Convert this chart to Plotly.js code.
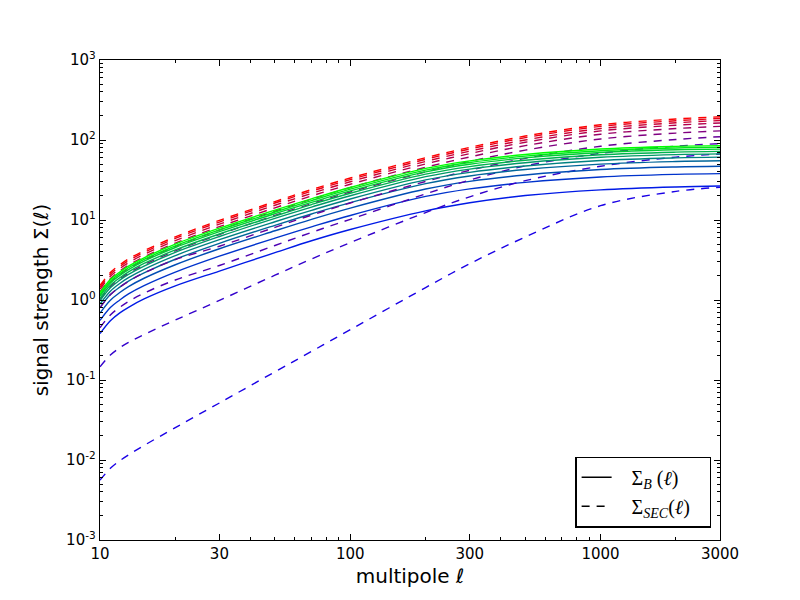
<!DOCTYPE html>
<html>
<head>
<meta charset="utf-8">
<script src="https://cdn.plot.ly/plotly-3.0.1.min.js"></script>
<style>html,body{margin:0;padding:0;background:#fff;}#chart{width:800px;height:600px;}</style>
</head>
<body>
<div id="chart"></div>
<script>
// multipole values
const ell = [10, 11, 12, 13, 15, 20, 30, 50, 70, 100, 200, 300, 500, 1000, 2000, 3000];

// Sigma_B(ell), solid lines (blue -> green)
const sigB1  = [0.38, 0.55, 0.69, 0.81, 1.03, 1.50, 2.30, 3.90, 5.50, 7.60, 13.0, 16.4, 20.2, 23.8, 25.9, 26.6];
const sigB2  = [0.555, 0.806, 1.00, 1.19, 1.51, 2.23, 3.53, 5.93, 8.21, 11.4, 19.7, 24.5, 29.5, 34.5, 37.2, 38.0];
const sigB3  = [0.686, 0.996, 1.24, 1.47, 1.87, 2.76, 4.37, 7.33, 10.2, 14.1, 24.4, 30.4, 36.5, 42.7, 46.0, 47.0];
const sigB4  = [0.803, 1.17, 1.45, 1.72, 2.18, 3.23, 5.11, 8.58, 11.9, 16.5, 28.5, 35.5, 42.7, 49.9, 53.8, 55.0];
const sigB5  = [0.891, 1.29, 1.61, 1.90, 2.42, 3.59, 5.67, 9.52, 13.2, 18.3, 31.7, 39.4, 47.3, 55.4, 59.7, 61.0];
const sigB6  = [0.978, 1.42, 1.77, 2.09, 2.66, 3.94, 6.22, 10.5, 14.5, 20.1, 34.8, 43.3, 52.0, 60.8, 65.6, 67.0];
const sigB7  = [1.05, 1.53, 1.90, 2.25, 2.86, 4.23, 6.69, 11.2, 15.6, 21.6, 37.4, 46.5, 55.9, 65.4, 70.5, 72.0];
const sigB8  = [1.12, 1.63, 2.03, 2.40, 3.06, 4.53, 7.15, 12.0, 16.6, 23.1, 40.0, 49.7, 59.8, 69.9, 75.4, 77.0];
const sigB9  = [1.18, 1.72, 2.14, 2.53, 3.22, 4.76, 7.52, 12.6, 17.5, 24.3, 42.0, 52.3, 62.9, 73.5, 79.3, 81.0];
const sigB10 = [1.24, 1.80, 2.24, 2.65, 3.37, 5.00, 7.90, 13.3, 18.4, 25.5, 44.1, 54.9, 66.0, 77.2, 83.2, 85.0];

// Sigma_SEC(ell), dashed lines (blue -> red)
const sigS1  = [0.0056, 0.00787, 0.0098, 0.0116, 0.0152, 0.0254, 0.0516, 0.1265, 0.2275, 0.425, 1.43, 2.84, 6.12, 15.1, 22.8, 25.6];
const sigS2  = [0.146, 0.205, 0.253, 0.295, 0.370, 0.561, 0.989, 2.04, 3.25, 5.22, 12.4, 19.5, 31.0, 47.0, 61.1, 66.8];
const sigS3  = [0.45, 0.65, 0.81, 0.96, 1.22, 1.78, 2.70, 4.80, 7.00, 10.2, 21.2, 31.6, 47.4, 68.1, 83.8, 90.0];
const sigS4  = [0.80, 1.16, 1.45, 1.71, 2.18, 3.20, 4.70, 8.10, 11.5, 16.3, 30.3, 41.8, 59.0, 83.5, 101.5, 110.0];
const sigS5  = [1.01, 1.47, 1.83, 2.17, 2.76, 4.11, 6.59, 11.4, 16.0, 22.4, 40.0, 54.0, 74.6, 103.0, 122.0, 130.0];
const sigS6  = [1.15, 1.67, 2.09, 2.47, 3.14, 4.68, 7.50, 12.9, 18.2, 25.5, 45.6, 61.4, 85.0, 118.0, 139.0, 148.0];
const sigS7  = [1.27, 1.84, 2.30, 2.72, 3.46, 5.15, 8.26, 14.2, 20.0, 28.0, 50.2, 67.6, 93.6, 130.0, 153.0, 163.0];
const sigS8  = [1.37, 1.98, 2.47, 2.92, 3.71, 5.53, 8.87, 15.3, 21.5, 30.1, 53.9, 72.6, 100.0, 139.0, 164.0, 175.0];
const sigS9  = [1.45, 2.10, 2.62, 3.11, 3.94, 5.88, 9.43, 16.3, 22.9, 32.0, 57.3, 77.2, 107.0, 148.0, 174.0, 186.0];
const sigS10 = [1.52, 2.20, 2.75, 3.26, 4.13, 6.16, 9.89, 17.0, 24.0, 33.5, 60.1, 80.9, 112.0, 155.0, 183.0, 195.0];

// tick labels
const xTickVals = [10, 30, 100, 300, 1000, 3000];
const xTickText = ['10', '30', '100', '300', '1000', '3000'];
const yTickVals = [1e-3, 1e-2, 1e-1, 1, 10, 100, 1000];
const yTickText = ['10<sup>-3</sup>', '10<sup>-2</sup>', '10<sup>-1</sup>', '10<sup>0</sup>', '10<sup>1</sup>', '10<sup>2</sup>', '10<sup>3</sup>'];
const legendNames = ['\u00a0\u00a0\u00a0\u03A3<sub><i>B</i></sub>\u00a0(<i>\u2113</i>)\u00a0\u00a0\u00a0',
                     '\u00a0\u00a0\u00a0\u03A3<sub><i>SEC</i></sub>(<i>\u2113</i>)\u00a0\u00a0\u00a0'];

const solidSeries = [sigB1, sigB2, sigB3, sigB4, sigB5, sigB6, sigB7, sigB8, sigB9, sigB10];
const dashedSeries = [sigS1, sigS2, sigS3, sigS4, sigS5, sigS6, sigS7, sigS8, sigS9, sigS10];

const traces = [];
const n = solidSeries.length;
for (let i = 0; i < n; i++) {
  const t = (i + 1) / n;
  const a = Math.round(255 * t), b = Math.round(255 * (1 - t));
  traces.push({
    x: ell, y: solidSeries[i], type: 'scatter', mode: 'lines', showlegend: false, hoverinfo: 'skip',
    line: {color: `rgb(0,${a},${b})`, width: 1.4, shape: 'spline', smoothing: 1}
  });
  traces.push({
    x: ell, y: dashedSeries[i], type: 'scatter', mode: 'lines', showlegend: false, hoverinfo: 'skip',
    line: {color: `rgb(${a},0,${b})`, width: 1.4, dash: '8px,7px', shape: 'spline', smoothing: 1}
  });
}
// legend entries
traces.push({x: [null], y: [null], type: 'scatter', mode: 'lines', name: legendNames[0],
  line: {color: 'black', width: 1.4}});
traces.push({x: [null], y: [null], type: 'scatter', mode: 'lines', name: legendNames[1],
  line: {color: 'black', width: 1.4, dash: '8px,7px'}});

const xMinor = [], yMinor = [];
[10, 100, 1000].forEach(d => { for (let k = 2; k <= 9; k++) { const v = k * d; if (v <= 3000 && v !== 30 && v !== 300 && v !== 3000) xMinor.push(v); } });
[-3, -2, -1, 0, 1, 2].forEach(e => { for (let k = 2; k <= 9; k++) yMinor.push(k * Math.pow(10, e)); });

const axisCommon = {
  type: 'log', showgrid: false, zeroline: false, showline: true, linecolor: 'black', linewidth: 1.3,
  mirror: 'allticks', ticks: 'inside', ticklen: 6, tickwidth: 1, tickcolor: 'black',
  tickfont: {family: 'DejaVu Sans', size: 15, color: 'black'}
};

const layout = {
  width: 800, height: 600,
  margin: {l: 100, r: 80, t: 60, b: 60, pad: 0},
  paper_bgcolor: 'white', plot_bgcolor: 'white',
  font: {family: 'DejaVu Sans', color: 'black'},
  xaxis: Object.assign({}, axisCommon, {
    range: [1, Math.log10(3000)], tickmode: 'array', tickvals: xTickVals, ticktext: xTickText,
    minor: {ticks: 'inside', ticklen: 3, tickwidth: 1, tickcolor: 'black', tickmode: 'array', tickvals: xMinor, showgrid: false},
    title: {text: 'multipole \u2113', font: {family: 'DejaVu Sans', size: 20, color: 'black'}, standoff: 6}
  }),
  yaxis: Object.assign({}, axisCommon, {
    range: [-3, 3], tickmode: 'array', tickvals: yTickVals, ticktext: yTickText,
    minor: {ticks: 'inside', ticklen: 3, tickwidth: 1, tickcolor: 'black', tickmode: 'array', tickvals: yMinor, showgrid: false},
    title: {text: 'signal strength \u03A3(\u2113)', font: {family: 'DejaVu Sans', size: 20, color: 'black'}, standoff: 12}
  }),
  legend: {
    x: 0.986, y: 0.026, xanchor: 'right', yanchor: 'bottom',
    bgcolor: 'white', bordercolor: 'black', borderwidth: 1.3,
    font: {family: 'Liberation Serif', size: 20, color: 'black'},
    tracegroupgap: 0
  },
  showlegend: true
};

Plotly.newPlot('chart', traces, layout, {staticPlot: true, displayModeBar: false});
</script>
</body>
</html>
